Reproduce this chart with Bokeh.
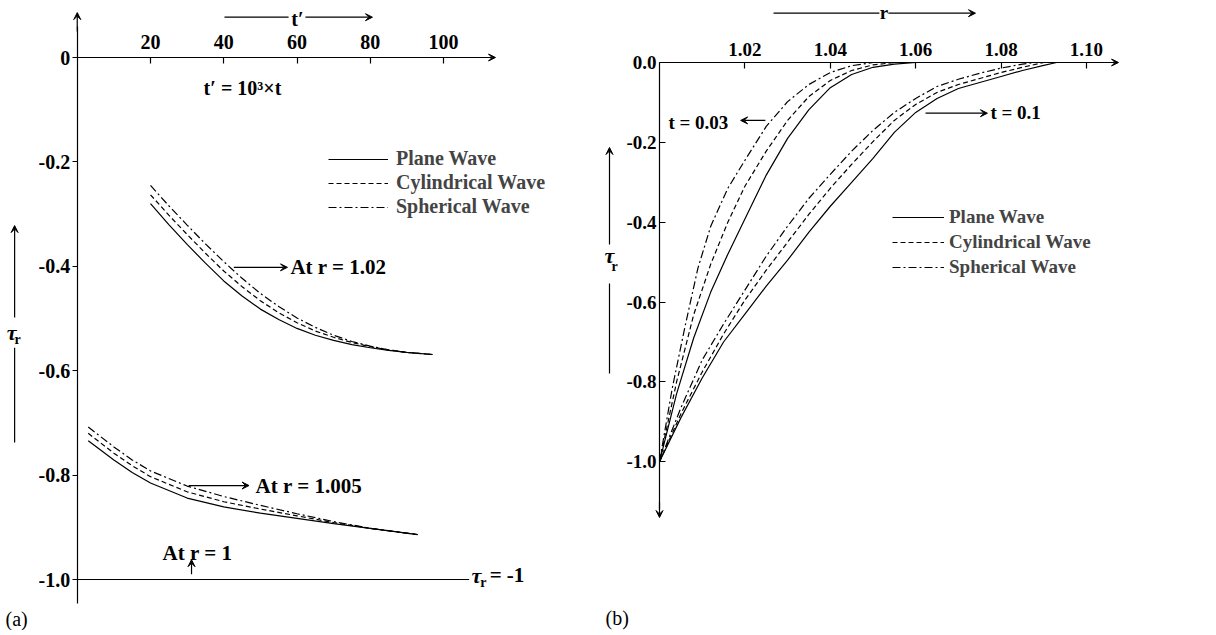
from bokeh.plotting import figure
from bokeh.layouts import row
from bokeh.models import (Range1d, FixedTicker, PrintfTickFormatter, Arrow, VeeHead,
                          Label, Legend, LegendItem, LinearAxis)
from bokeh.embed import file_html
from bokeh.resources import INLINE

# ---------------- data : panel (a)  tau_r versus t' = 10^3 t ----------------
t_r1020 = [20, 25, 30, 35, 40, 45, 50, 55, 60, 65, 70, 75, 80, 85, 90, 97]
plane_r1020 = [-0.280, -0.320, -0.358, -0.394, -0.428, -0.457, -0.482, -0.502,
               -0.519, -0.532, -0.542, -0.550, -0.556, -0.561, -0.565, -0.569]
cyl_r1020 = [-0.263, -0.302, -0.339, -0.375, -0.409, -0.439, -0.466, -0.489,
             -0.508, -0.524, -0.536, -0.546, -0.554, -0.560, -0.565, -0.569]
sph_r1020 = [-0.245, -0.284, -0.321, -0.357, -0.391, -0.423, -0.452, -0.477,
             -0.499, -0.517, -0.532, -0.544, -0.553, -0.560, -0.565, -0.569]

t_r1005 = [3, 10, 15, 20, 30, 40, 50, 60, 70, 80, 93]
plane_r1005 = [-0.734, -0.771, -0.795, -0.815, -0.844, -0.861, -0.873, -0.883, -0.893, -0.902, -0.914]
cyl_r1005 = [-0.720, -0.758, -0.782, -0.803, -0.832, -0.851, -0.865, -0.878, -0.891, -0.902, -0.914]
sph_r1005 = [-0.708, -0.746, -0.771, -0.792, -0.821, -0.841, -0.858, -0.874, -0.889, -0.902, -0.914]

t_r1000 = [0, 107]
tau_r1000 = [-1.0, -1.0]

a_xticks = [20, 40, 60, 80, 100]
a_yticks = [0, -0.2, -0.4, -0.6, -0.8, -1.0]

# ---------------- data : panel (b)  tau_r versus r ----------------
r_plane_t003 = [1.000, 1.004, 1.008, 1.012, 1.016, 1.020, 1.025, 1.030, 1.035, 1.040, 1.045, 1.050, 1.055, 1.060]
plane_t003 = [-1.000, -0.830, -0.690, -0.575, -0.480, -0.392, -0.282, -0.190, -0.118, -0.063, -0.030, -0.012, -0.004, 0.000]
r_cyl_t003 = [1.000, 1.004, 1.008, 1.012, 1.016, 1.020, 1.025, 1.030, 1.035, 1.040, 1.045, 1.050, 1.055]
cyl_t003 = [-1.000, -0.800, -0.632, -0.505, -0.400, -0.310, -0.222, -0.145, -0.085, -0.045, -0.020, -0.006, 0.000]
r_sph_t003 = [1.000, 1.003, 1.006, 1.009, 1.012, 1.016, 1.020, 1.025, 1.030, 1.035, 1.040, 1.045, 1.050]
sph_t003 = [-1.000, -0.815, -0.660, -0.515, -0.410, -0.315, -0.245, -0.160, -0.098, -0.055, -0.025, -0.008, 0.000]

r_plane_t01 = [1.000, 1.005, 1.010, 1.015, 1.020, 1.025, 1.030, 1.035, 1.040, 1.045, 1.050,
               1.055, 1.060, 1.065, 1.070, 1.075, 1.080, 1.085, 1.090, 1.093]
plane_t01 = [-1.000, -0.890, -0.790, -0.700, -0.630, -0.560, -0.495, -0.425, -0.360, -0.300, -0.240,
             -0.175, -0.125, -0.090, -0.065, -0.050, -0.035, -0.020, -0.007, 0.000]
r_cyl_t01 = [1.000, 1.005, 1.010, 1.015, 1.020, 1.025, 1.030, 1.035, 1.040, 1.045, 1.050,
             1.055, 1.060, 1.065, 1.070, 1.075, 1.080, 1.085, 1.090]
cyl_t01 = [-1.000, -0.880, -0.775, -0.680, -0.595, -0.520, -0.450, -0.380, -0.315, -0.255, -0.198,
           -0.145, -0.105, -0.075, -0.055, -0.040, -0.025, -0.012, 0.000]
r_sph_t01 = [1.000, 1.005, 1.010, 1.015, 1.020, 1.025, 1.030, 1.035, 1.040, 1.045, 1.050,
             1.055, 1.060, 1.065, 1.070, 1.075, 1.080, 1.085, 1.088]
sph_t01 = [-1.000, -0.865, -0.745, -0.655, -0.570, -0.485, -0.410, -0.340, -0.280, -0.222, -0.170,
           -0.125, -0.090, -0.060, -0.042, -0.027, -0.014, -0.004, 0.000]

b_xticks = [1.02, 1.04, 1.06, 1.08, 1.10]
b_yticks = [0.0, -0.2, -0.4, -0.6, -0.8, -1.0]

series_names = ["Plane Wave", "Cylindrical Wave", "Spherical Wave"]

# ---------------- styles ----------------
SERIF = "Liberation Serif"
DASH = {"Plane Wave": "solid", "Cylindrical Wave": "5 3", "Spherical Wave": "8 3 2 3"}
LW = 1.2
H = 630


def label(p, x, y, text, size="20px", style="bold", align="left"):
    p.add_layout(Label(x=x, y=y, text=text, text_font=SERIF, text_font_style=style,
                       text_font_size=size, text_align=align, text_baseline="middle",
                       text_color="black"))


def arrow(p, x0, y0, x1, y1, head=True):
    p.add_layout(Arrow(x_start=x0, y_start=y0, x_end=x1, y_end=y1, line_width=1.2,
                       line_color="black",
                       end=VeeHead(size=7, line_width=1, line_color="black", fill_color="black") if head else None))


def style_axis(ax, size):
    ax.axis_line_color = "black"
    ax.axis_line_width = 1.2
    ax.major_tick_line_color = "black"
    ax.major_tick_line_width = 1.2
    ax.minor_tick_line_color = None
    ax.major_label_text_font = SERIF
    ax.major_label_text_font_style = "bold"
    ax.major_label_text_font_size = size
    ax.major_label_text_color = "black"


def base_fig(width, xr, yr):
    p = figure(width=width, height=H, x_range=Range1d(*xr), y_range=Range1d(*yr),
               x_axis_location=None, y_axis_location=None,
               output_backend="svg", toolbar_location=None,
               min_border_left=0, min_border_right=0, min_border_top=0, min_border_bottom=0)
    p.grid.visible = False
    p.outline_line_color = None
    p.background_fill_color = "white"
    p.border_fill_color = "white"
    return p


# ======================= panel (a) =======================
pa = base_fig(598, (-20.956, 142.32), (-1.0977, 0.1092))

xa = LinearAxis(fixed_location=0)
style_axis(xa, "20px")
xa.ticker = FixedTicker(ticks=a_xticks)
xa.bounds = (0, 112)
xa.major_tick_in = 6
xa.major_tick_out = 0
xa.major_label_standoff = 9
pa.add_layout(xa, "above")

ya = LinearAxis(fixed_location=0)
style_axis(ya, "20px")
ya.ticker = FixedTicker(ticks=a_yticks)
ya.formatter = PrintfTickFormatter(format="%.1f")
ya.major_label_overrides = {0: "0"}
ya.bounds = (-1.046, 0.06)
ya.major_tick_in = 0
ya.major_tick_out = 5
ya.major_label_standoff = 2
pa.add_layout(ya, "left")

groups_a = [
    (t_r1020, [plane_r1020, cyl_r1020, sph_r1020]),
    (t_r1005, [plane_r1005, cyl_r1005, sph_r1005]),
]
legend_renderers_a = {}
for tvals, curves in groups_a:
    for name, yv in zip(series_names, curves):
        r = pa.line(tvals, yv, line_color="black", line_width=LW, line_dash=DASH[name])
        legend_renderers_a.setdefault(name, r)
pa.line(t_r1000, tau_r1000, line_color="black", line_width=LW)

leg_a = Legend(items=[LegendItem(label=n, renderers=[legend_renderers_a[n]]) for n in series_names],
               location=(328, 412), glyph_width=60, glyph_height=20, label_height=20,
               label_standoff=8, spacing=1, padding=0, margin=0,
               background_fill_alpha=0, border_line_alpha=0,
               label_text_font=SERIF, label_text_font_style="bold", label_text_font_size="20px")
pa.add_layout(leg_a)

# axis arrows
arrow(pa, 110, 0, 114.2, 0)
arrow(pa, 0, 0.05, 0, 0.086)
# t' label above
arrow(pa, 40.2, 0.0772, 57.7, 0.0772, head=False)
arrow(pa, 62.3, 0.0772, 80.6, 0.0772)
label(pa, 60.1, 0.0747, "t\u2032", align="center")
label(pa, 34.5, -0.0575, "t\u2032 = 10\u00b3\u00d7t")
# y label tau_r
arrow(pa, -17.1, -0.498, -17.1, -0.322)
arrow(pa, -17.1, -0.556, -17.1, -0.7375, head=False)
label(pa, -17.95, -0.5268, "\u03c4", size="22px", style="bold italic", align="center")
label(pa, -16.3, -0.5402, "r", size="14px", align="center")
# curve annotations
arrow(pa, 42.75, -0.402, 57.4, -0.402)
label(pa, 58.2, -0.402, "At r = 1.02", size="21px")
arrow(pa, 30.45, -0.820, 46.9, -0.820)
label(pa, 48.7, -0.820, "At r = 1.005", size="21px")
label(pa, 23.3, -0.950, "At r = 1", size="21px")
arrow(pa, 31.2, -0.990, 31.2, -0.962)
label(pa, 109.0, -0.992, "\u03c4", size="22px", style="bold italic", align="center")
label(pa, 110.9, -1.006, "r", size="14px", align="center")
label(pa, 112.6, -0.992, "= -1", size="21px")
label(pa, -19.6, -1.0766, "(a)", style="normal")

# ======================= panel (b) =======================
pb = base_fig(612, (0.985714, 1.129040), (-1.422489, 0.155272))

xb = LinearAxis(fixed_location=0)
style_axis(xb, "19px")
xb.ticker = FixedTicker(ticks=b_xticks)
xb.formatter = PrintfTickFormatter(format="%.2f")
xb.bounds = (1.0, 1.104)
xb.major_tick_in = 6
xb.major_tick_out = 0
xb.major_label_standoff = 7
pb.add_layout(xb, "above")

yb = LinearAxis(fixed_location=1.0)
style_axis(yb, "19px")
yb.ticker = FixedTicker(ticks=b_yticks)
yb.formatter = PrintfTickFormatter(format="%.1f")
yb.bounds = (-1.12, 0)
yb.major_tick_in = 6
yb.major_tick_out = 0
yb.major_label_standoff = 3
pb.add_layout(yb, "left")

groups_b = [
    [(r_plane_t003, plane_t003), (r_cyl_t003, cyl_t003), (r_sph_t003, sph_t003)],
    [(r_plane_t01, plane_t01), (r_cyl_t01, cyl_t01), (r_sph_t01, sph_t01)],
]
legend_renderers_b = {}
for grp in groups_b:
    for name, (rv, yv) in zip(series_names, grp):
        r = pb.line(rv, yv, line_color="black", line_width=LW, line_dash=DASH[name])
        legend_renderers_b.setdefault(name, r)

leg_b = Legend(items=[LegendItem(label=n, renderers=[legend_renderers_b[n]]) for n in series_names],
               location=(294, 352), glyph_width=52, glyph_height=20, label_height=20,
               label_standoff=5, spacing=3, padding=0, margin=0,
               background_fill_alpha=0, border_line_alpha=0,
               label_text_font=SERIF, label_text_font_style="bold", label_text_font_size="19px")
pb.add_layout(leg_b)

arrow(pb, 1.100, 0, 1.1075, 0)
arrow(pb, 1.0, -1.10, 1.0, -1.1395)
# r label above
arrow(pb, 1.0267, 0.1235, 1.0515, 0.1235, head=False)
arrow(pb, 1.0536, 0.1235, 1.0740, 0.1235)
label(pb, 1.05258, 0.124, "r", size="19px", align="center")
# y label tau_r
arrow(pb, 0.98829, -0.4558, 0.98829, -0.2129)
arrow(pb, 0.98829, -0.5535, 0.98829, -0.7789, head=False)
label(pb, 0.98829, -0.4833, "\u03c4", size="22px", style="bold italic", align="center")
label(pb, 0.98946, -0.5109, "r", size="14px", align="center")
# curve annotations
label(pb, 1.0021, -0.1495, "t = 0.03", size="19px")
arrow(pb, 1.0248, -0.145, 1.0190, -0.145)
arrow(pb, 1.0623, -0.127, 1.0768, -0.127)
label(pb, 1.0775, -0.125, "t = 0.1", size="19px")
label(pb, 0.98735, -1.39, "(b)", style="normal")

layout = row(pa, pb)
open("out.html", "w").write(file_html(layout, INLINE))
